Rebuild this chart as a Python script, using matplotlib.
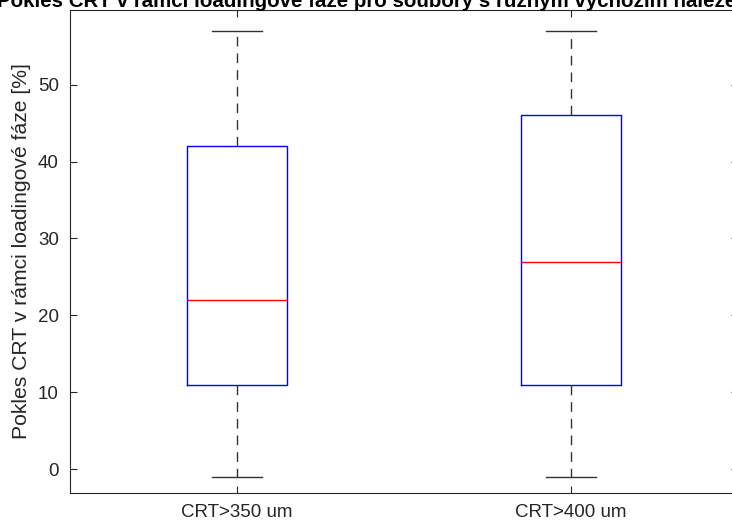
import matplotlib
matplotlib.use('Agg')
import matplotlib.pyplot as plt

# Values (MATLAB style)
groups = ['CRT>350 um', 'CRT>400 um']
whisker_low = [-1, -1]
q1 = [11, 11]
median = [22, 27]
q3 = [42, 46]
whisker_high = [57, 57]

title_text = 'Pokles CRT v rámci loadingové fáze pro soubory s různým výchozím nálezem CRT'
ylabel_text = 'Pokles CRT v rámci loadingové fáze [%]'

plt.rcParams['font.family'] = ['Liberation Sans', 'DejaVu Sans']

fig = plt.figure(figsize=(7.32, 5.29), dpi=100)
# the reference is a crop of a larger figure: axes run past the right edge
ax = fig.add_axes([0.0956, 0.068, 0.9126, 0.913])

stats = []
for i, name in enumerate(groups):
    stats.append({'label': name, 'whislo': whisker_low[i], 'q1': q1[i],
                  'med': median[i], 'q3': q3[i], 'whishi': whisker_high[i],
                  'fliers': []})

ax.bxp(stats, positions=[1, 2], widths=0.3, showfliers=False,
       boxprops=dict(color='blue', linewidth=1.0),
       medianprops=dict(color='red', linewidth=1.0),
       whiskerprops=dict(color='#333333', linestyle=(0, (7, 5)), linewidth=1.0),
       capprops=dict(color='#333333', linewidth=1.0),
       capwidths=0.15)

ax.set_xlim(0.5, 2.5)
ax.set_ylim(-3.1, 59.7)
ax.set_yticks([0, 10, 20, 30, 40, 50])
ax.set_xticks([1, 2])
ax.set_xticklabels(groups)

grey = '#262626'
for s in ax.spines.values():
    s.set_color(grey)
    s.set_linewidth(0.8)
ax.tick_params(direction='in', top=True, right=True, colors=grey,
               labelsize=13.5, length=5, width=0.8, pad=8)
ax.set_ylabel(ylabel_text, fontsize=15.2, color=grey, labelpad=5)

# title is clipped by the top edge, as in the reference crop
fig.text(-0.004, 0.987, title_text, ha='left', va='baseline',
         fontsize=14.8, fontweight='bold', color='black')

fig.savefig('out.png', dpi=100)
